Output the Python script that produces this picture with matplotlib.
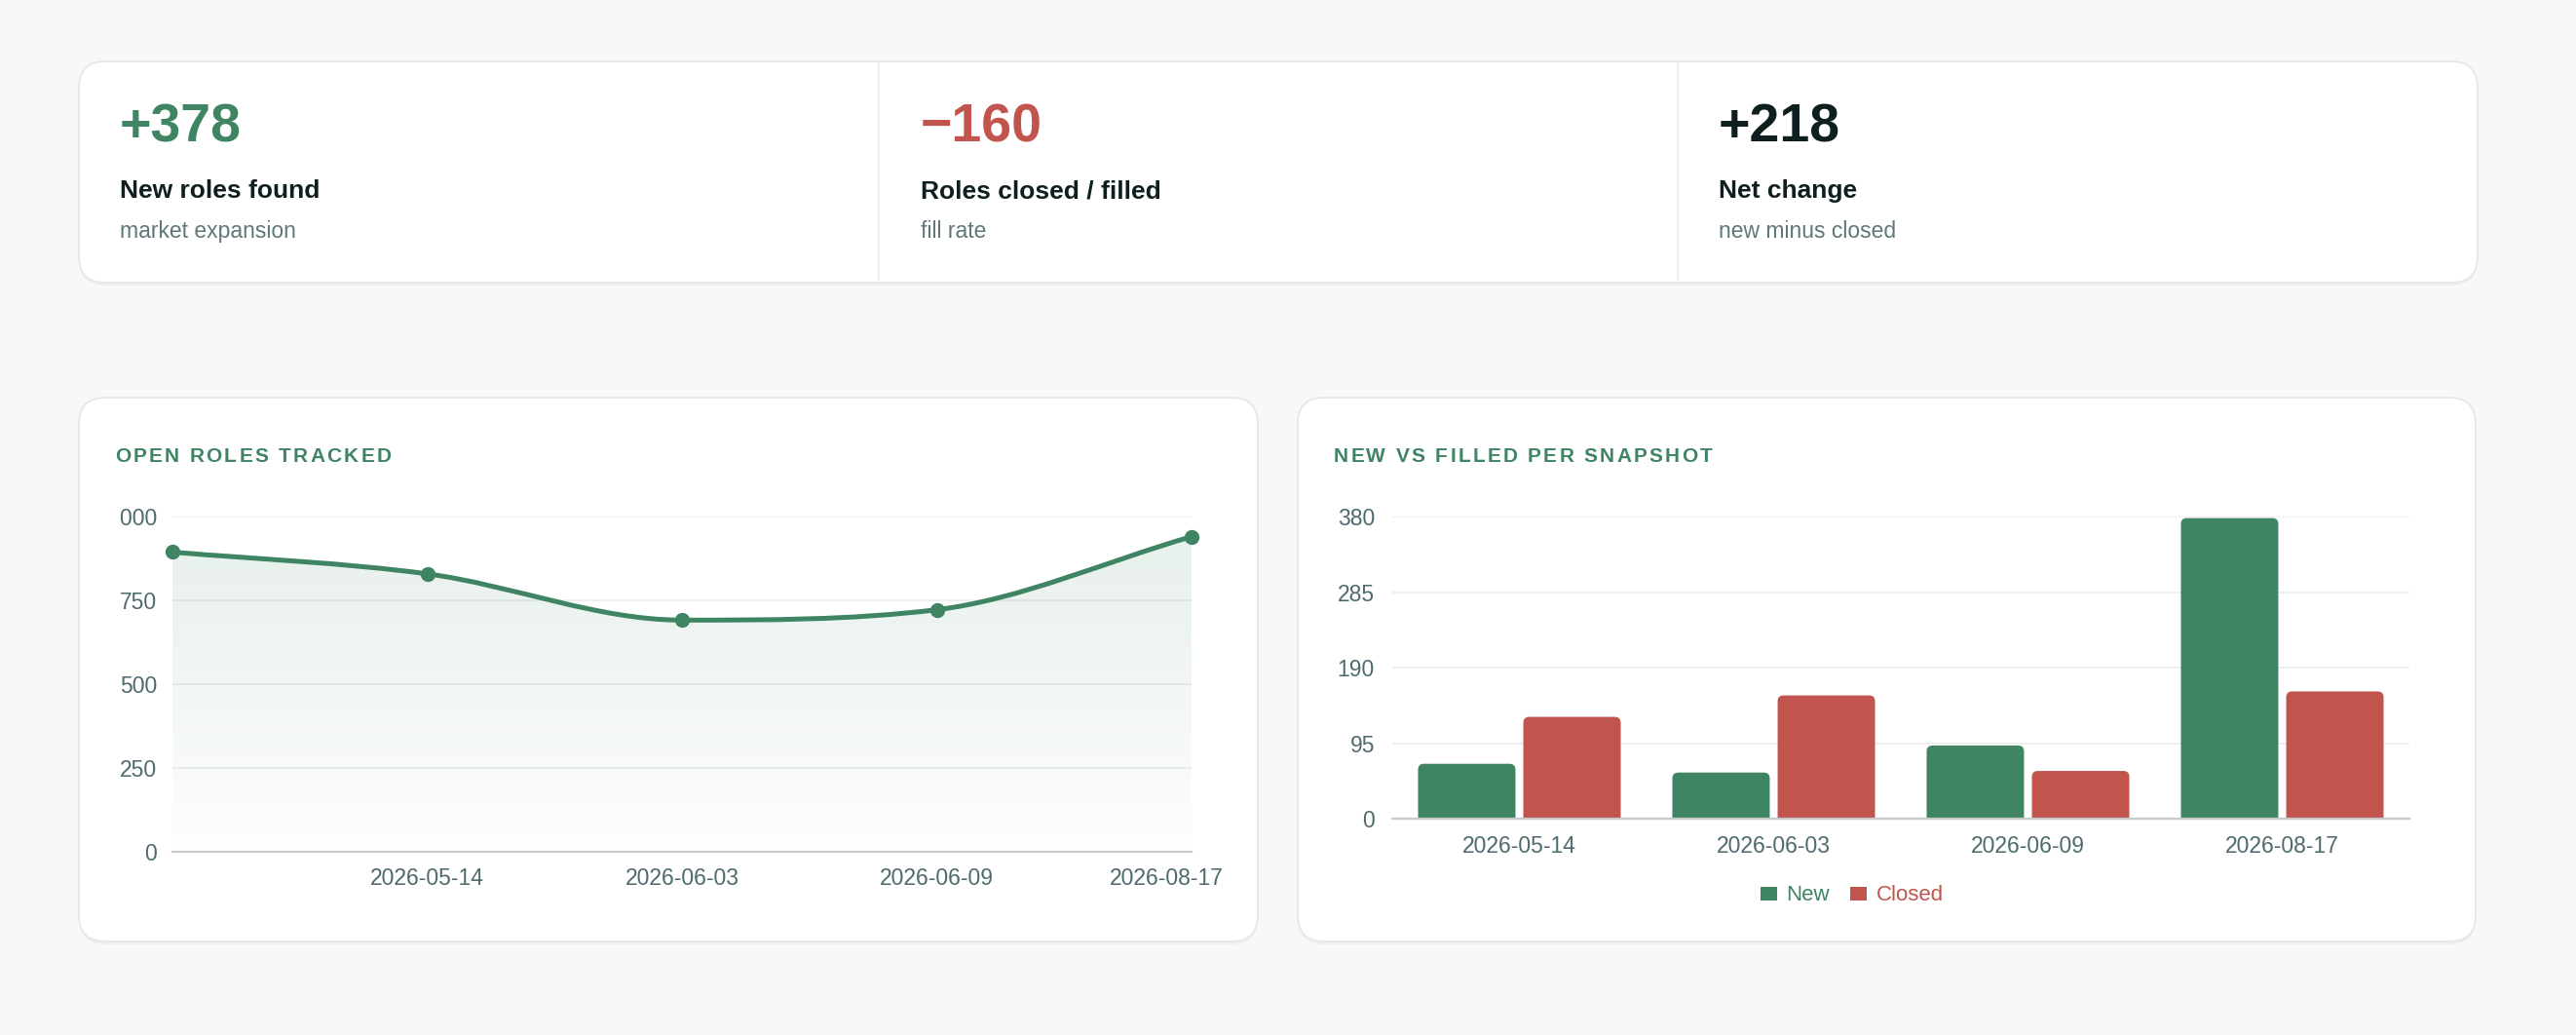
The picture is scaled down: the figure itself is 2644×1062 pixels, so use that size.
import numpy as np
import matplotlib
matplotlib.use("Agg")
import matplotlib.pyplot as plt
from matplotlib.patches import FancyBboxPatch, PathPatch
from matplotlib.path import Path
from matplotlib.transforms import Bbox, TransformedBbox, ScaledTranslation
from matplotlib.font_manager import FontProperties

plt.rcParams['font.family'] = ['Liberation Sans', 'DejaVu Sans']

# ---- data ----
kpi_values = ["+378", "\u2212160", "+218"]
kpi_labels = ["New roles found", "Roles closed / filled", "Net change"]
kpi_notes = ["market expansion", "fill rate", "new minus closed"]

open_roles = [894, 829, 691, 722, 940]
snapshot_dates = ["2026-05-14", "2026-06-03", "2026-06-09", "2026-08-17"]
new_roles = [69, 58, 92, 378]
closed_roles = [128, 155, 60, 160]

GREEN = "#3f8463"
RED = "#c1544d"
DARK = "#0f1f20"
SUB = "#5f7778"
TICK = "#4f6a6e"
GRID = "#eceeee"
BASE = "#c6caca"

W, H = 2644, 1062
fig = plt.figure(figsize=(W / 100, H / 100), dpi=100)
fig.patch.set_facecolor("#f8f8f8")

bg = fig.add_axes([0, 0, 1, 1])
bg.set_xlim(0, W)
bg.set_ylim(H, 0)
bg.axis("off")
bg.set_zorder(-1)


def card(x0, y0, x1, y1):
    sh = FancyBboxPatch((x0, y0 + 3), x1 - x0, y1 - y0,
                        boxstyle="round,pad=0,rounding_size=27",
                        fc="#000000", ec="none", alpha=0.035)
    bg.add_patch(sh)
    c = FancyBboxPatch((x0, y0), x1 - x0, y1 - y0,
                       boxstyle="round,pad=0,rounding_size=27",
                       fc="white", ec="#e6e8e8", lw=1.3)
    bg.add_patch(c)


def px_axes(x0, y0, x1, y1):
    return fig.add_axes([x0 / W, 1 - y1 / H, (x1 - x0) / W, (y1 - y0) / H])


renderer = fig.canvas.get_renderer()


def spaced_title(x, y, s, size, spacing):
    fp = FontProperties(family=['Liberation Sans'], weight='bold', size=size)
    bar_w = renderer.get_text_width_height_descent("|", fp, ismath=False)[0]
    for i, ch in enumerate(s):
        pre = renderer.get_text_width_height_descent(s[:i] + "|", fp, ismath=False)[0] - bar_w
        bg.text(x + pre + i * spacing, y, ch, fontproperties=fp, color=GREEN,
                va="baseline", ha="left")


# ---- KPI card ----
card(81, 63, 2543, 290)
for xd in (902, 1722):
    bg.plot([xd, xd], [64, 289], color="#eceeee", lw=1.3)

kpi_x = [123, 945, 1764]
kpi_colors = [GREEN, RED, DARK]
for x, v, lab, note, col in zip(kpi_x, kpi_values, kpi_labels, kpi_notes, kpi_colors):
    bg.text(x, 145, v, fontsize=40, fontweight="bold", color=col, va="baseline")
    bg.text(x, 203, lab, fontsize=19, fontweight="bold", color=DARK, va="baseline")
    bg.text(x, 244, note, fontsize=16.5, color=SUB, va="baseline")

# ---- chart cards ----
card(81, 408, 1291, 966)
card(1332, 408, 2541, 966)
spaced_title(118, 474, "OPEN ROLES TRACKED", 15, 2.3)
spaced_title(1369, 474, "NEW VS FILLED PER SNAPSHOT", 15, 2.3)


def style_axes(ax):
    ax.set_facecolor("none")
    for s in ("top", "right", "left"):
        ax.spines[s].set_visible(False)
    ax.spines["bottom"].set_color(BASE)
    ax.spines["bottom"].set_linewidth(1.6)
    ax.spines["bottom"].set_zorder(5)
    ax.grid(axis="y", color=GRID, lw=1.3)
    ax.set_axisbelow(True)
    ax.tick_params(length=0, labelsize=16.5, labelcolor=TICK)


# ---- line chart ----
ax1 = px_axes(177, 530, 1223, 874)
style_axes(ax1)
xs = np.arange(len(open_roles))
ys = np.array(open_roles, dtype=float)

# monotone cubic control points
d = np.diff(ys)
m = np.zeros_like(ys)
m[0], m[-1] = d[0], d[-1]
for k in range(1, len(ys) - 1):
    m[k] = 0 if d[k - 1] * d[k] <= 0 else (d[k - 1] + d[k]) / 2
for k in range(len(d)):
    if d[k] == 0:
        m[k] = m[k + 1] = 0
        continue
    a, b = m[k] / d[k], m[k + 1] / d[k]
    if a * a + b * b > 9:
        t = 3 / np.sqrt(a * a + b * b)
        m[k], m[k + 1] = t * a * d[k], t * b * d[k]

verts = [(xs[0], ys[0])]
codes = [Path.MOVETO]
for k in range(len(d)):
    verts += [(xs[k] + 1 / 3, ys[k] + m[k] / 3),
              (xs[k + 1] - 1 / 3, ys[k + 1] - m[k + 1] / 3),
              (xs[k + 1], ys[k + 1])]
    codes += [Path.CURVE4] * 3
line_path = Path(verts, codes)
fill_path = Path(verts + [(xs[-1], 0), (xs[0], 0), (xs[0], ys[0])],
                 codes + [Path.LINETO, Path.LINETO, Path.CLOSEPOLY])

ax1.set_xlim(0, len(open_roles) - 1)
ax1.set_ylim(0, 1000)
clip = PathPatch(fill_path, fc="none", ec="none", transform=ax1.transData)
ax1.add_patch(clip)
grad = np.zeros((256, 2, 4))
grad[..., :3] = matplotlib.colors.to_rgb(GREEN)
grad[..., 3] = np.linspace(0.13, 0.01, 256)[:, None]
im = ax1.imshow(grad, extent=(0, len(open_roles) - 1, 0, 1000), aspect="auto",
                origin="upper", zorder=1, interpolation="bilinear")
im.set_clip_path(clip)
ax1.set_xlim(0, len(open_roles) - 1)
ax1.set_ylim(0, 1000)
ax1.add_patch(PathPatch(line_path, fc="none", ec=GREEN, lw=3.6, zorder=3,
                        capstyle="round", joinstyle="round"))
ax1.plot(xs, ys, "o", color=GREEN, ms=10, zorder=4, clip_on=False)

ax1.set_yticks([0, 250, 500, 750, 1000])
ax1.set_yticklabels(["0", "250", "500", "750", "1,000"])
ax1.set_xticks(xs[1:])
ax1.set_xticklabels(snapshot_dates)
ax1.tick_params(axis="x", pad=11.5)
ax1.tick_params(axis="y", pad=11.5)
lab_clip = TransformedBbox(Bbox([[121 / W, 0], [1, 1]]), fig.transFigure)
for t in ax1.get_yticklabels():
    t.set_clip_box(lab_clip)
    t.set_clip_on(True)
last = ax1.get_xticklabels()[-1]
last.set_transform(last.get_transform() + ScaledTranslation(-26 / 100, 0, fig.dpi_scale_trans))

# ---- bar chart ----
ax2 = px_axes(1429, 530, 2473, 840)
style_axes(ax2)
xb = np.arange(len(snapshot_dates))
b_new = ax2.bar(xb - 0.207, new_roles, width=0.383, color=GREEN, label="New", zorder=2)
b_cls = ax2.bar(xb + 0.207, closed_roles, width=0.383, color=RED, label="Closed", zorder=2)
ax2.set_xlim(-0.5, len(snapshot_dates) - 0.5)
ax2.set_ylim(0, 380)

# rounded tops: swap each bar rectangle for a rounded box that runs below the axis
x_per_px = 4 / 1044
y_per_px = 380 / 310
for bars in (b_new, b_cls):
    for r in bars:
        r.set_visible(False)
        rb = FancyBboxPatch((r.get_x(), -12), r.get_width(), r.get_height() + 12,
                            boxstyle="round,pad=0,rounding_size=%f" % (6 * x_per_px),
                            mutation_aspect=y_per_px / x_per_px,
                            fc=r.get_facecolor(), ec="none", zorder=2)
        ax2.add_patch(rb)

ax2.set_yticks([0, 95, 190, 285, 380])
ax2.set_xticks(xb)
ax2.set_xticklabels(snapshot_dates)
ax2.tick_params(axis="x", pad=12)
ax2.tick_params(axis="y", pad=13)

leg = fig.legend(*ax2.get_legend_handles_labels(), loc="center",
                 bbox_to_anchor=(1901 / W, 1 - 919 / H), ncol=2, frameon=False,
                 fontsize=16, handlelength=0.77, handleheight=0.59,
                 handletextpad=0.42, columnspacing=0.95, borderpad=0)
for txt, col in zip(leg.get_texts(), [GREEN, RED]):
    txt.set_color(col)
for h in leg.legend_handles:
    h.set_visible(True)

fig.savefig("out.png", dpi=100, facecolor=fig.get_facecolor())
